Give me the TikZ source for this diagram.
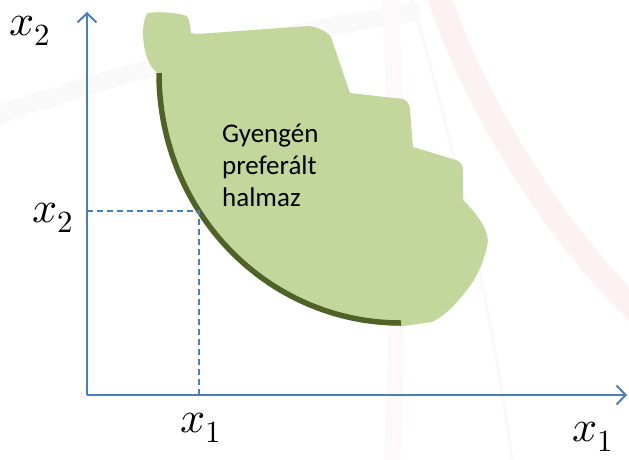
\documentclass[tikz,border=0pt]{standalone}
\usepackage{fontspec}
\usepackage{unicode-math}
\setmathfont{Latin Modern Math}
\newfontfamily\calibri{Carlito}
\usetikzlibrary{arrows.meta}
\definecolor{axisblue}{RGB}{74,126,193}
\definecolor{blobgreen}{RGB}{195,214,155}
\definecolor{darkolive}{RGB}{79,98,40}
\definecolor{wmpink}{RGB}{252,242,244}
\definecolor{wmpinklight}{RGB}{253,248,249}
\definecolor{wmgray}{RGB}{249,249,249}
\tikzset{
  axis/.style={draw=axisblue, line width=2.2pt, -{Straight Barb[length=9pt,width=19pt,line width=2pt]}},
  guide/.style={draw=axisblue, line width=1.5pt, dash pattern=on 6pt off 4pt},
  mlabel/.style={anchor=base west, inner sep=0pt, font=\fontsize{44}{50}\selectfont},
  settext/.style={anchor=base west, inner sep=0pt, align=left, font=\calibri\fontsize{27}{31.7}\selectfont},
  indiff/.style={draw=darkolive, line width=5.5pt}
}
\begin{document}
\begin{tikzpicture}[x=1pt,y=-1pt]
\useasboundingbox (0,0) rectangle (629,459);
% faint background watermark
\draw[wmgray, line width=18pt] (-10,118) .. controls (100,80) and (250,35) .. (420,12);
\draw[wmpink, line width=24pt] (437,-10) .. controls (465,80) and (540,220) .. (645,320);
\draw[wmpinklight, line width=16pt] (390,-5) .. controls (398,150) and (400,300) .. (392,465);
\draw[wmgray, line width=3pt] (412,0) .. controls (455,150) and (490,300) .. (512,459);
% weakly preferred set
\fill[blobgreen]
  (159,74) .. controls (150,68) and (146,58) .. (144,45)
  .. controls (142,32) and (143,18) .. (148,13)
  .. controls (160,11) and (178,13) .. (187,16)
  .. controls (190,20) and (190,28) .. (191,33)
  -- (197,34) -- (308,26)
  .. controls (318,27) and (326,31) .. (331,37)
  -- (350,93) -- (403,99)
  .. controls (409,102) and (410,106) .. (410,110)
  -- (413,147) -- (456,160)
  .. controls (461,162) and (463,165) .. (463,170)
  -- (463,200)
  .. controls (475,212) and (486,225) .. (488,240)
  .. controls (486,258) and (476,280) .. (466,291)
  .. controls (458,302) and (445,316) .. (432,322)
  -- (403,326)
  .. controls (272,322) and (164,212) .. (159,74) -- cycle;
% indifference curve
\coordinate (c0) at (159,73);
\coordinate (c1) at (401,323);
\draw[indiff] (c0) .. controls (159,211.5) and (266.9,323) .. (c1);
% axes
\coordinate (O) at (87,395);
\coordinate (Ytop) at (87,12);
\coordinate (Xend) at (627,395);
\coordinate (P) at (199,211);
\draw[guide] (O|-P) -- (P) -- (P|-O);
\draw[axis] (O) -- (Ytop);
\draw[axis] (O) -- (Xend);
% labels
\node[mlabel] (ylab) at (9,35) {$x_2$};
\node[mlabel] (y0lab) at (32,222) {$x_2$};
\node[mlabel] (x0lab) at (180,432) {$x_1$};
\node[mlabel] (xlab) at (572,441) {$x_1$};
\node[settext] (setlab) at (222,206) {Gyengén\\preferált\\halmaz};
\end{tikzpicture}
\end{document}
